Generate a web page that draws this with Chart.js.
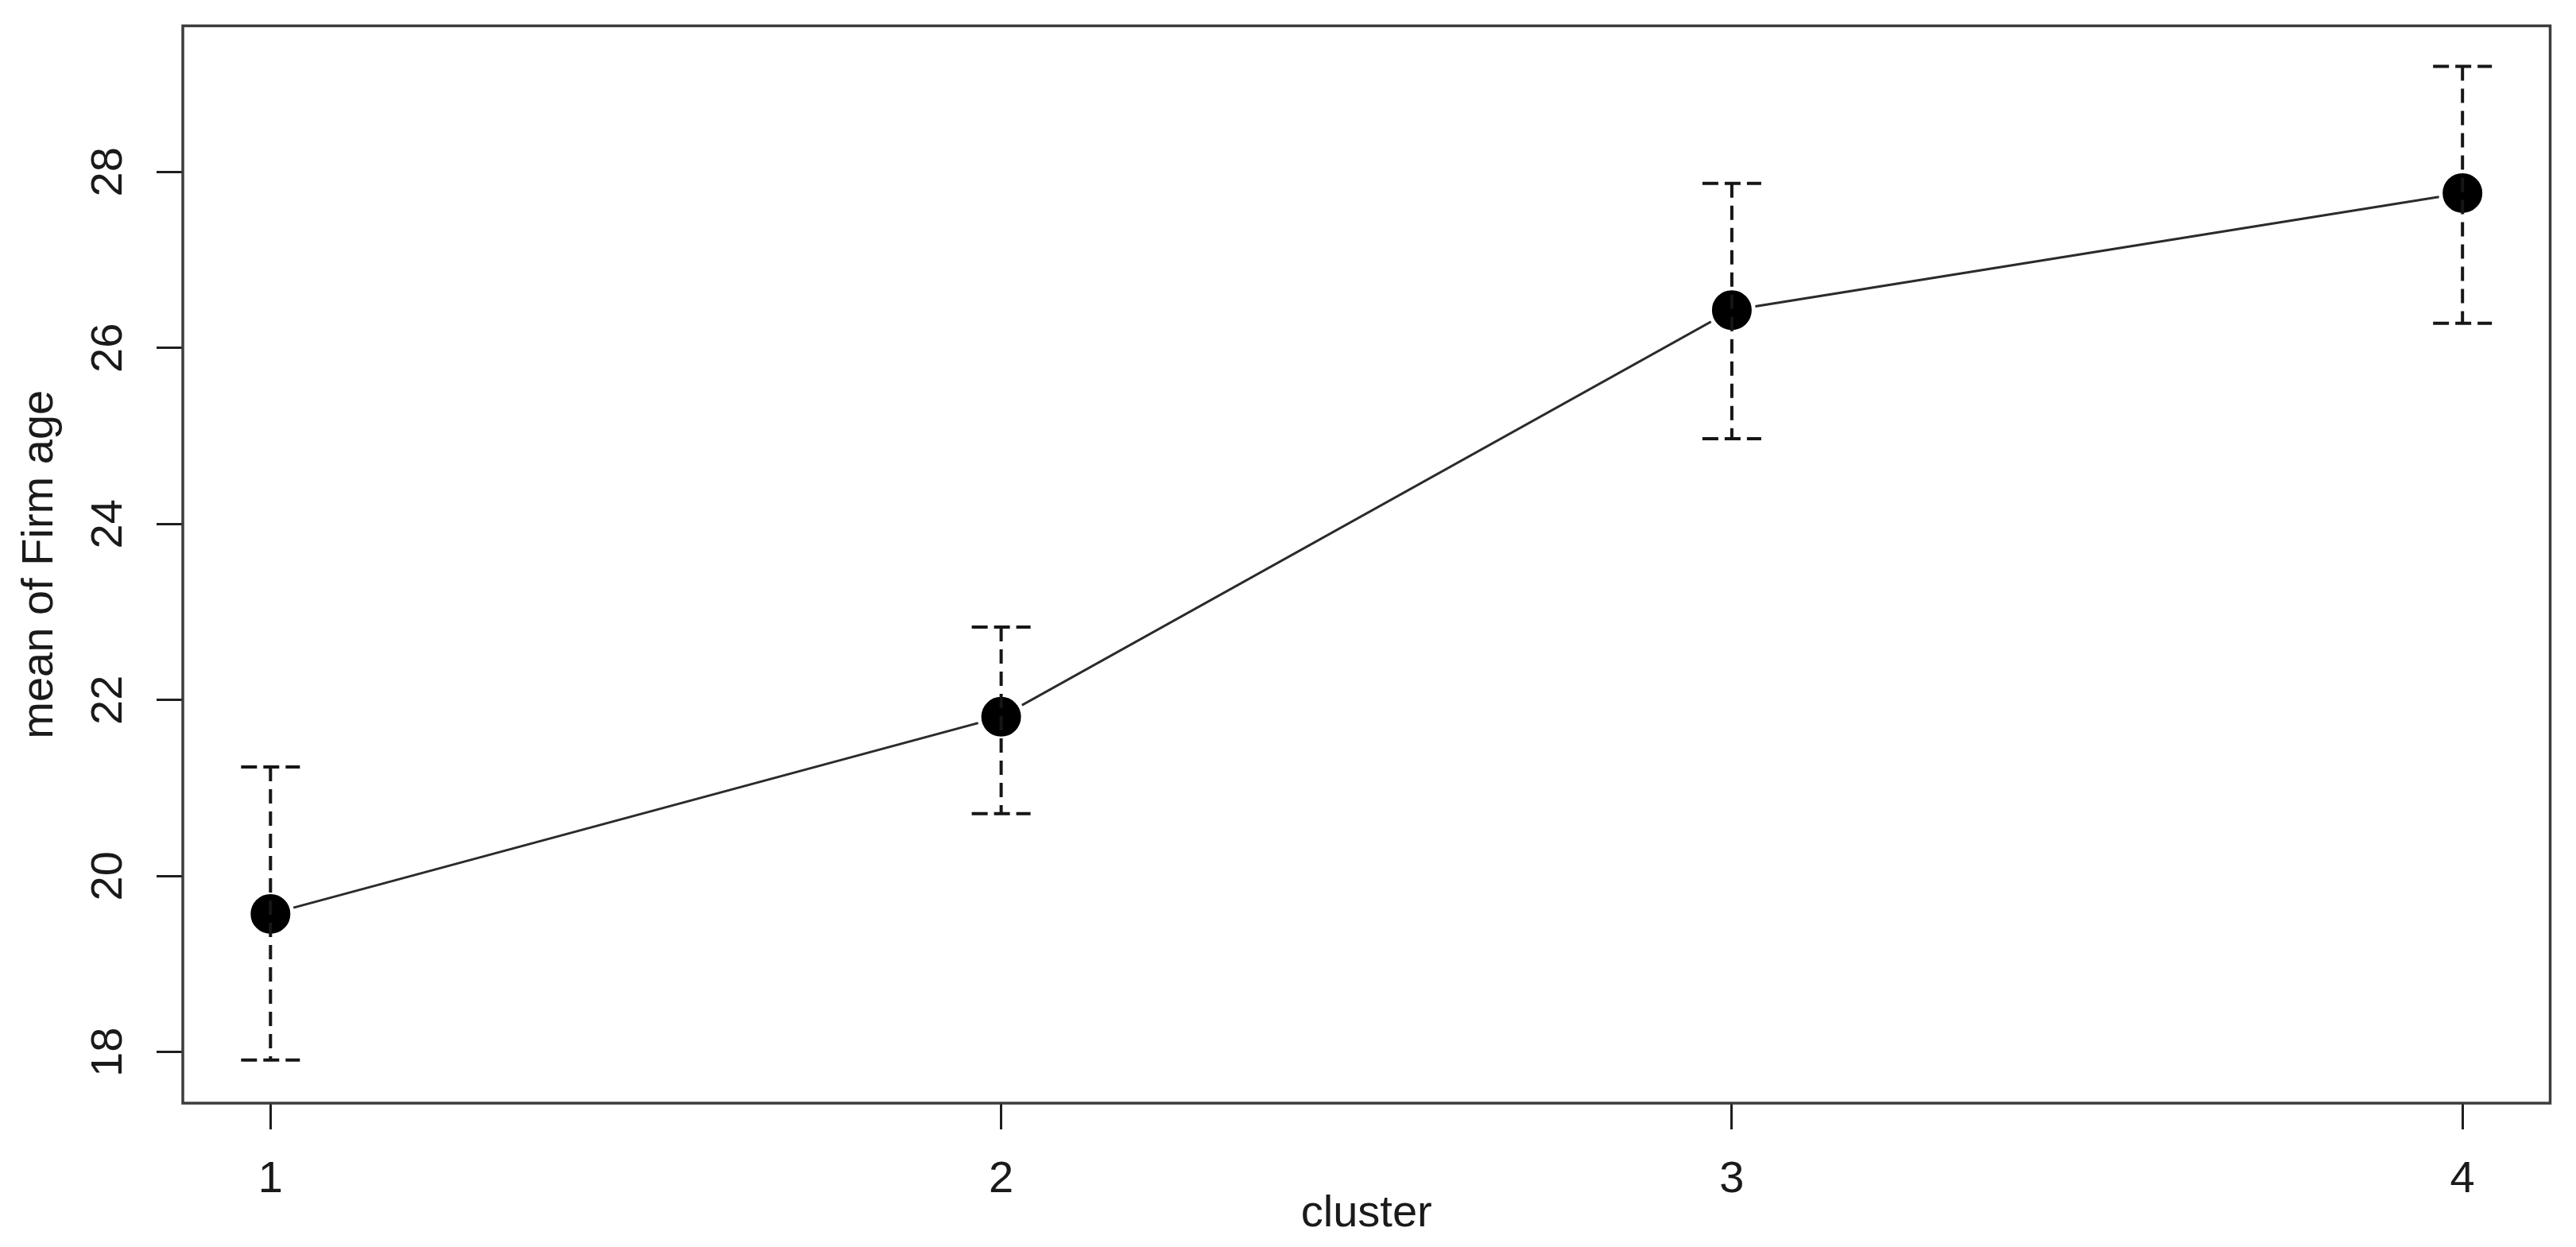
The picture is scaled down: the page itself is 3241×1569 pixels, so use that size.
<!DOCTYPE html>
<html>
<head>
<meta charset="utf-8">
<script src="https://cdn.jsdelivr.net/npm/chart.js@4.4.0/dist/chart.umd.min.js"></script>
<style>
  html, body { margin: 0; padding: 0; background: #fff; }
  #wrap { width: 3241px; height: 1569px; }
</style>
</head>
<body>
<div id="wrap"><canvas id="ChartOne" width="3241" height="1569"></canvas></div>
<script>
// values
const clusters = [1, 2, 3, 4];
const meanAge = [19.57, 21.81, 26.43, 27.76];
const upperAge = [21.24, 22.83, 27.87, 29.20];
const lowerAge = [17.91, 20.71, 24.97, 26.28];
const xTicks = [1, 2, 3, 4];
const yTicks = [18, 20, 22, 24, 26, 28];
const xTitle = 'cluster';
const yTitle = 'mean of Firm age';

const fontFamily = '"Liberation Sans", Arial, sans-serif';
const textColor = '#1a1a1a';

// R style box round the plot region
const boxPlugin = {
  id: 'box',
  afterDraw: (chart) => {
    let ctx = chart.ctx;
    let a = chart.chartArea;
    ctx.save();
    ctx.strokeStyle = '#3c3c3c';
    ctx.lineWidth = 3.5;
    ctx.strokeRect(a.left, a.top, a.right - a.left, a.bottom - a.top);
    ctx.restore();
  }
};

// dashed error bars with dashed caps
const errorBarPlugin = {
  id: 'errorBars',
  afterDatasetsDraw: (chart) => {
    let ctx = chart.ctx;
    let xs = chart.scales.x;
    let ys = chart.scales.y;
    ctx.save();
    ctx.strokeStyle = '#161616';
    ctx.lineWidth = 4;
    clusters.map((c, i) => {
      let x = xs.getPixelForValue(c);
      let yU = ys.getPixelForValue(upperAge[i]);
      let yL = ys.getPixelForValue(lowerAge[i]);
      let half = 37;
      ctx.setLineDash([18, 10]);
      ctx.beginPath();
      ctx.moveTo(x, yU);
      ctx.lineTo(x, yL);
      ctx.stroke();
      ctx.setLineDash([20, 8]);
      ctx.beginPath();
      ctx.moveTo(x - half, yU);
      ctx.lineTo(x + half, yU);
      ctx.moveTo(x - half, yL);
      ctx.lineTo(x + half, yL);
      ctx.stroke();
    });
    ctx.restore();
  }
};

// y tick labels run along the axis, as R draws them
const yLabelPlugin = {
  id: 'yLabels',
  afterDraw: (chart) => {
    let ctx = chart.ctx;
    let ys = chart.scales.y;
    ctx.save();
    ctx.fillStyle = textColor;
    ctx.font = '56px ' + fontFamily;
    ctx.textAlign = 'center';
    ctx.textBaseline = 'alphabetic';
    yTicks.map((v) => {
      let y = ys.getPixelForValue(v);
      ctx.save();
      ctx.translate(153, y);
      ctx.rotate(-Math.PI / 2);
      ctx.fillText(String(v), 0, 0);
      ctx.restore();
    });
    ctx.restore();
  }
};

let ctx = document.getElementById('ChartOne').getContext('2d');

let myChart = new Chart(ctx, {
  type: 'line',
  data: {
    datasets: [{
      label: yTitle,
      data: clusters.map((c, i) => ({ x: c, y: meanAge[i] })),
      borderColor: '#2b2b2b',
      borderWidth: 3,
      tension: 0,
      fill: false,
      pointRadius: 27.5,
      pointBackgroundColor: '#000',
      pointBorderColor: '#fff',
      pointBorderWidth: 5,
      pointHoverRadius: 27.5
    }]
  },
  options: {
    responsive: false,
    animation: false,
    devicePixelRatio: 1,
    layout: { padding: { top: 28, right: 21, left: 0, bottom: 0 } },
    plugins: {
      legend: { display: false },
      tooltip: { enabled: false }
    },
    scales: {
      x: {
        type: 'linear',
        min: 0.88,
        max: 4.12,
        afterBuildTicks: (scale) => { scale.ticks = xTicks.map((v) => ({ value: v })); },
        afterFit: (scale) => { scale.height = 181; },
        grid: { drawOnChartArea: false, drawTicks: true, tickLength: 33, tickWidth: 3, tickColor: '#1e1e1e' },
        border: { display: false },
        ticks: {
          color: textColor,
          font: { family: fontFamily, size: 56 },
          padding: 30,
          maxRotation: 0,
          callback: (v) => String(v)
        },
        title: {
          display: true,
          text: xTitle,
          color: textColor,
          font: { family: fontFamily, size: 56 },
          padding: { top: 0, bottom: 8 }
        }
      },
      y: {
        type: 'linear',
        min: 17.42,
        max: 29.66,
        afterBuildTicks: (scale) => { scale.ticks = yTicks.map((v) => ({ value: v })); },
        afterFit: (scale) => { scale.width = 230; },
        grid: { drawOnChartArea: false, drawTicks: true, tickLength: 33, tickWidth: 3, tickColor: '#1e1e1e' },
        border: { display: false },
        ticks: { display: false },
        title: {
          display: true,
          text: yTitle,
          color: textColor,
          font: { family: fontFamily, size: 56 },
          padding: { top: 17, bottom: 0 }
        }
      }
    }
  },
  plugins: [boxPlugin, errorBarPlugin, yLabelPlugin]
});
</script>
</body>
</html>
